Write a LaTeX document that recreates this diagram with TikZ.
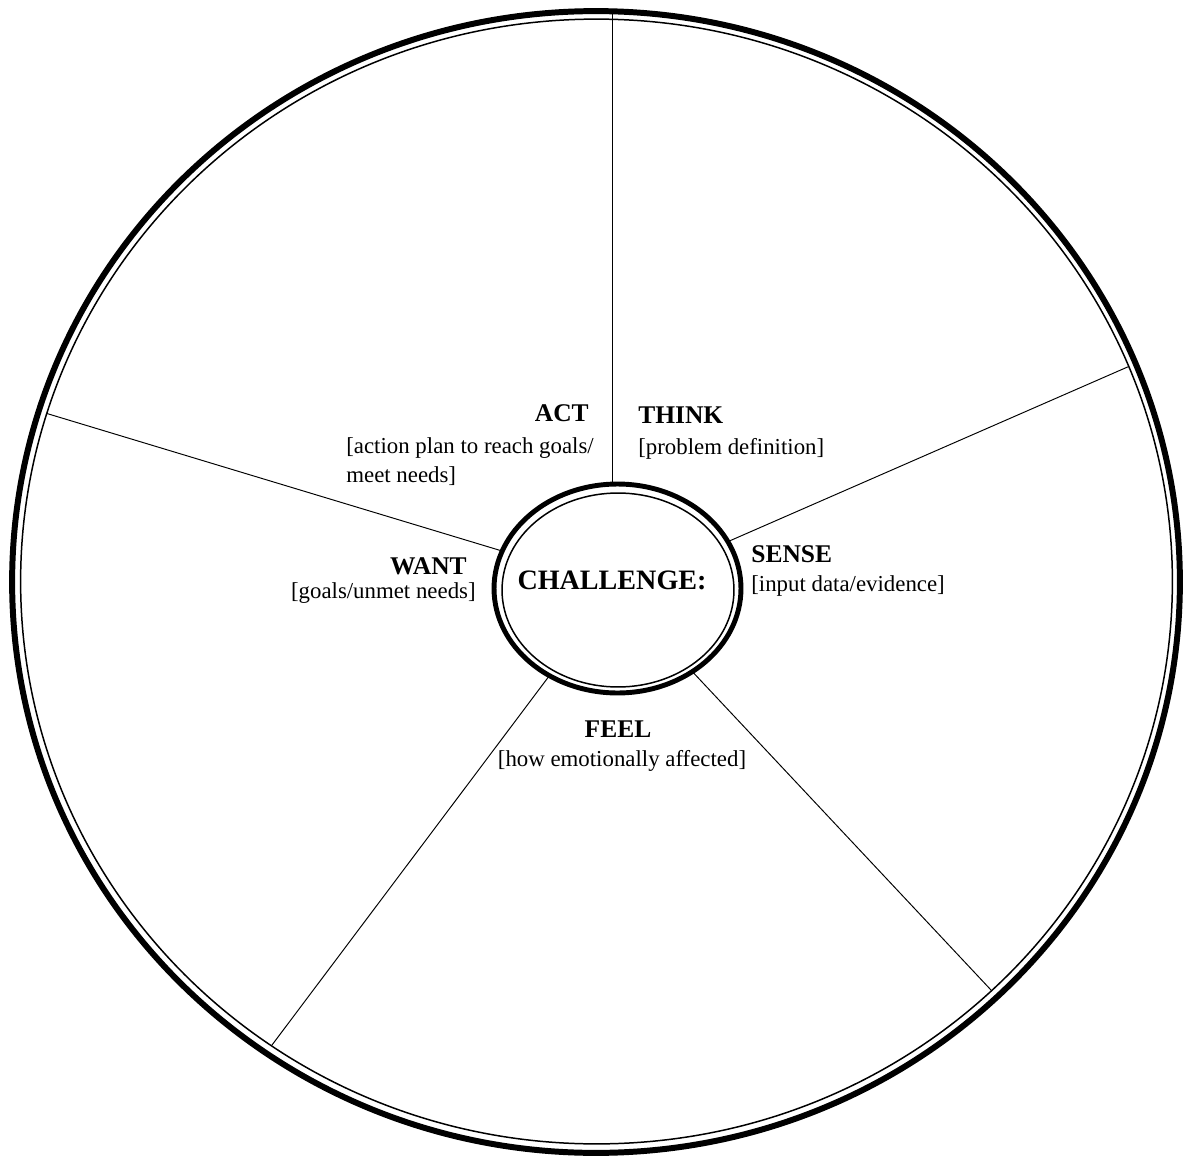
\documentclass[tikz,border=0pt]{standalone}
\usepackage{fontspec}
\setmainfont{Liberation Serif}
\usetikzlibrary{shapes.geometric}
\newcommand{\wheelunit}{0.02cm}
\tikzstyle{rim}=[
  draw,
  ellipse,
  inner sep=0pt,
  outer sep=0pt
]
\tikzstyle{spoke}=[
  line width=0.55pt
]
\tikzstyle{head}=[
  inner sep=0pt,
  font=\fontsize{14.5}{17}\selectfont\bfseries
]
\tikzstyle{note}=[
  inner sep=0pt,
  align=left,
  font=\fontsize{13}{16.5}\selectfont
]

\begin{document}
\begin{tikzpicture}[x=\wheelunit, y=-\wheelunit]
  \useasboundingbox (0,0) rectangle (1183,1159);

  \node[rim, line width=3.4pt,  minimum width=23.36cm, minimum height=22.84cm] (wheel)   at (596,   582)   {};
  \node[rim, line width=0.85pt, minimum width=23.04cm, minimum height=22.5cm ] (wheelin) at (596.5, 581.5) {};
  \node[rim, line width=2.8pt,  minimum width=4.94cm,  minimum height=4.18cm ] (hub)     at (617.5, 588.5) {};
  \node[rim, line width=0.85pt, minimum width=4.64cm,  minimum height=3.88cm ] (hubin)   at (618,   590)   {};

  \draw[spoke] (hub.93)     -- (hub.93 |- wheel.north);
  \draw[spoke] (hub.23.3)   -- (wheelin.22.9);
  \draw[spoke] (hub.-48.9)  -- (wheelin.-46.3);
  \draw[spoke] (hub.-128.9) -- (wheelin.-125);
  \draw[spoke] (hub.162.1)  -- (wheelin.163.2);

  \node[inner sep=0pt, font=\fontsize{16}{19}\selectfont\bfseries, anchor=base] (challenge) at (612, 589) {CHALLENGE:};

  \node[head, anchor=base east] (act)       at (589, 421) {ACT};
  \node[note, anchor=base west] (actnote)   at (346, 482) {[action plan to reach goals/\\meet needs]};
  \node[head, anchor=base west] (think)     at (638, 423) {THINK};
  \node[note, anchor=base west] (thinknote) at (638, 454) {[problem definition]};
  \node[head, anchor=base west] (sense)     at (751, 562) {SENSE};
  \node[note, anchor=base west] (sensenote) at (751, 591) {[input data/evidence]};
  \node[head, anchor=base east] (want)      at (467, 574) {WANT};
  \node[note, anchor=base east] (wantnote)  at (476, 598) {[goals/unmet needs]};
  \node[head, anchor=base]      (feel)      at (618, 737) {FEEL};
  \node[note, anchor=base]      (feelnote)  at (622, 766) {[how emotionally affected]};
\end{tikzpicture}
\end{document}
